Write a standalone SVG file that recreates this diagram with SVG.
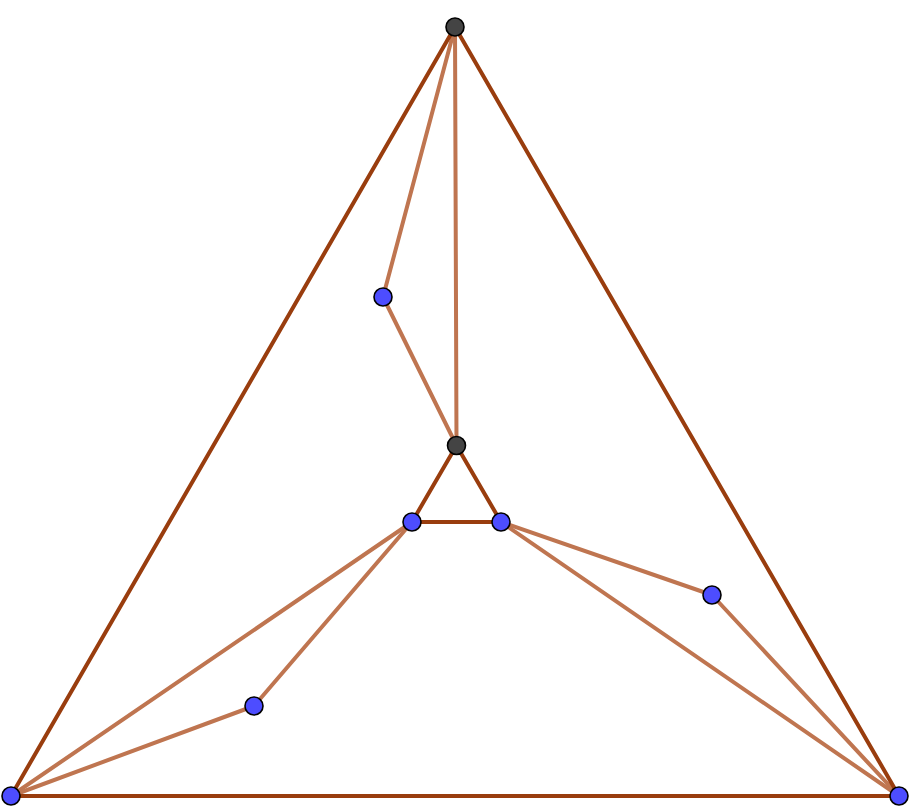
<svg xmlns="http://www.w3.org/2000/svg" width="917" height="807" viewBox="0 0 917 807">
<style>
.d{stroke:#993d0e;stroke-width:4;fill:none;stroke-linecap:round}
.l{stroke:#bf7550;stroke-width:4;fill:none;stroke-linecap:round}
.b{fill:#4d4dff;stroke:#000;stroke-width:1.6}
.g{fill:#444;stroke:#000;stroke-width:1.6}
</style>
<rect width="917" height="807" fill="#fff"/>
<g id="connectors">
<line class="l" x1="455" y1="27" x2="383" y2="297"/>
<line class="l" x1="383" y1="297" x2="456.5" y2="445.5"/>
<line class="l" x1="455" y1="27" x2="456.5" y2="445.5"/>
<line class="l" x1="412" y1="522" x2="11" y2="796"/>
<line class="l" x1="412" y1="522" x2="254" y2="706"/>
<line class="l" x1="254" y1="706" x2="11" y2="796"/>
<line class="l" x1="501" y1="522" x2="712" y2="595"/>
<line class="l" x1="712" y1="595" x2="899" y2="796"/>
<line class="l" x1="501" y1="522" x2="899" y2="796"/>
<line class="d" x1="455" y1="27" x2="11" y2="796"/>
<line class="d" x1="455" y1="27" x2="899" y2="796"/>
<line class="d" x1="11" y1="796" x2="899" y2="796"/>
<line class="d" x1="456.5" y1="445.5" x2="412" y2="522"/>
<line class="d" x1="456.5" y1="445.5" x2="501" y2="522"/>
<line class="d" x1="412" y1="522" x2="501" y2="522"/>
</g>
<g id="n1"><circle class="g" cx="455" cy="27" r="9"/></g>
<g id="n2"><circle class="b" cx="383" cy="297" r="9"/></g>
<g id="n3"><circle class="g" cx="456.5" cy="445.5" r="9"/></g>
<g id="n4"><circle class="b" cx="412" cy="522" r="9"/></g>
<g id="n5"><circle class="b" cx="501" cy="522" r="9"/></g>
<g id="n6"><circle class="b" cx="712" cy="595" r="9"/></g>
<g id="n7"><circle class="b" cx="254" cy="706" r="9"/></g>
<g id="n8"><circle class="b" cx="11" cy="796" r="9"/></g>
<g id="n9"><circle class="b" cx="899" cy="796" r="9"/></g>
</svg>
